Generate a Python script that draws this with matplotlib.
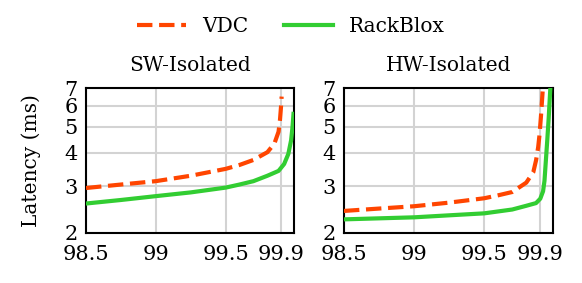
import matplotlib
matplotlib.use("Agg")
import matplotlib.pyplot as plt

plt.rcParams['font.family'] = ['DejaVu Serif']

# percentile (x) and latency in ms (y)
sw_vdc_x = [98.5, 98.75, 99.0, 99.25, 99.5, 99.6, 99.7, 99.8, 99.85, 99.88, 99.89, 99.897, 99.902]
sw_vdc_y = [2.95, 3.04, 3.13, 3.28, 3.48, 3.60, 3.76, 4.02, 4.33, 4.8, 5.3, 5.9, 6.5]
sw_rb_x = [98.5, 98.75, 99.0, 99.25, 99.5, 99.6, 99.7, 99.8, 99.88, 99.92, 99.95, 99.97, 99.98, 99.987]
sw_rb_y = [2.58, 2.66, 2.75, 2.84, 2.96, 3.04, 3.13, 3.28, 3.42, 3.63, 3.96, 4.46, 5.0, 5.6]

hw_vdc_x = [98.5, 98.75, 99.0, 99.25, 99.5, 99.6, 99.7, 99.8, 99.85, 99.87, 99.885, 99.895, 99.905, 99.92]
hw_vdc_y = [2.42, 2.47, 2.52, 2.60, 2.70, 2.77, 2.85, 3.09, 3.38, 3.75, 4.2, 4.7, 5.5, 7.2]
hw_rb_x = [98.5, 98.75, 99.0, 99.25, 99.5, 99.7, 99.8, 99.87, 99.9, 99.92, 99.93, 99.94, 99.95, 99.96, 99.975]
hw_rb_y = [2.25, 2.27, 2.29, 2.33, 2.37, 2.45, 2.53, 2.59, 2.69, 2.87, 3.14, 3.75, 4.47, 5.4, 7.5]

titles = ["SW-Isolated", "HW-Isolated"]
xticks = [98.5, 99, 99.5, 99.9]
xticklabels = ["98.5", "99", "99.5", "99.9"]
yticks = [2, 3, 4, 5, 6, 7]

fig = plt.figure(figsize=(5.82, 2.83), dpi=100)
ax1 = fig.add_axes([0.1478, 0.1767, 0.3572, 0.5123])
ax2 = fig.add_axes([0.591, 0.1767, 0.359, 0.5123])

data = [(sw_vdc_x, sw_vdc_y, sw_rb_x, sw_rb_y), (hw_vdc_x, hw_vdc_y, hw_rb_x, hw_rb_y)]

for ax, title, (vx, vy, rx, ry) in zip([ax1, ax2], titles, data):
    l1, = ax.plot(vx, vy, color="#FF4500", lw=3, ls="--", label="VDC", zorder=3)
    l2, = ax.plot(rx, ry, color="#32CD32", lw=3, label="RackBlox", zorder=3)
    ax.set_yscale("log")
    ax.set_ylim(2, 7)
    ax.set_xlim(98.5, 99.99)
    ax.set_yticks(yticks)
    ax.set_yticklabels([str(t) for t in yticks])
    ax.minorticks_off()
    ax.set_xticks(xticks)
    ax.set_xticklabels(xticklabels)
    ax.tick_params(length=0, labelsize=15)
    ax.tick_params(axis="y", pad=6)
    ax.tick_params(axis="x", pad=9)
    ax.grid(True, color="#d3d3d3", lw=1.5, zorder=0)
    ax.set_title(title, fontsize=14.5, pad=12)
    for s in ax.spines.values():
        s.set_linewidth(1.5)

ax1.set_ylabel("Latency (ms)", fontsize=14.5, labelpad=17)

fig.legend([l1, l2], ["VDC", "RackBlox"], loc="upper center", bbox_to_anchor=(0.5, 1.005),
           ncol=2, frameon=False, fontsize=14.5, handlelength=2.4, columnspacing=1.8)

fig.savefig("out.png", dpi=100)
